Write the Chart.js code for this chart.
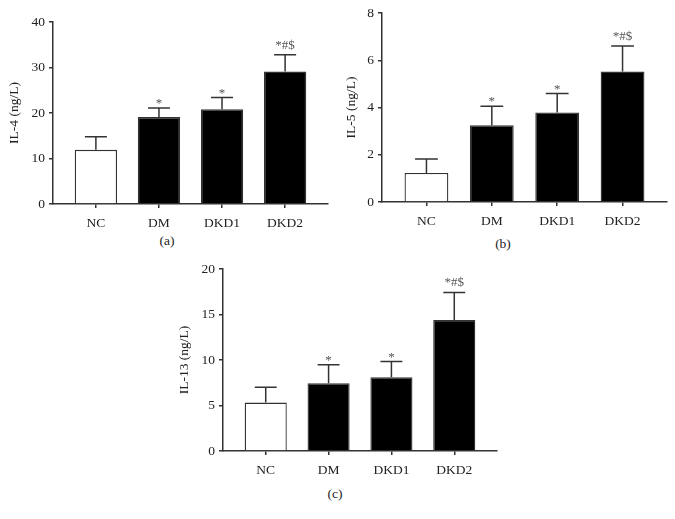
<!DOCTYPE html>
<html lang="en">
<head>
    <meta charset="UTF-8">
    <title>IL-4, IL-5 and IL-13 by group</title>
    <script src="https://cdn.jsdelivr.net/npm/chart.js"></script>
    <style>
        body {
            margin: 0;
            width: 675px;
            height: 519px;
            position: relative;
            overflow: hidden;
            background: #fff;
            font-family: "Liberation Serif", "DejaVu Serif", serif;
            color: #222;
        }

        .panel {
            position: absolute;
        }

        .caption {
            position: absolute;
            font-size: 13.5px;
            line-height: 16px;
            color: #222;
            transform: translateX(-50%);
        }
    </style>
</head>
<body>
    <div class="panel" style="left:0;top:0"><canvas id="chartA" width="340" height="232"></canvas></div>
    <div class="panel" style="left:340px;top:0"><canvas id="chartB" width="335" height="232"></canvas></div>
    <div class="panel" style="left:160px;top:255px"><canvas id="chartC" width="345" height="225"></canvas></div>

    <div class="caption" style="left:167px;top:233px">(a)</div>
    <div class="caption" style="left:503px;top:236px">(b)</div>
    <div class="caption" style="left:335px;top:486px">(c)</div>

    <script>
        // Groups and values (ng/L): bar = mean, upper = top of error bar
        const groups = ["NC", "DM", "DKD1", "DKD2"];
        const signif = ["", "*", "*", "*#$"];

        const il4Mean = [11.9, 19.1, 20.8, 29.1];
        const il4Upper = [14.8, 21.1, 23.4, 32.8];
        const il4Ticks = [0, 10, 20, 30, 40];

        const il5Mean = [1.23, 3.25, 3.79, 5.52];
        const il5Upper = [1.82, 4.05, 4.59, 6.6];
        const il5Ticks = [0, 2, 4, 6, 8];

        const il13Mean = [5.32, 7.45, 8.11, 14.39];
        const il13Upper = [7.01, 9.47, 9.83, 17.42];
        const il13Ticks = [0, 5, 10, 15, 20];

        const ink = "#222";
        const axisColor = "#333";
        const serif = "'Liberation Serif', 'DejaVu Serif', serif";

        // Upper error whisker with cap, plus significance marks above it
        const errorBars = {
            id: "errorBars",
            afterDatasetsDraw(chart, args, opts) {
                const ctx = chart.ctx;
                const yScale = chart.scales.y;
                const meta = chart.getDatasetMeta(0);
                ctx.save();
                ctx.strokeStyle = axisColor;
                ctx.lineWidth = 1.5;
                meta.data.forEach((bar, i) => {
                    const top = yScale.getPixelForValue(opts.upper[i]);
                    const half = bar.width * 0.26;
                    ctx.beginPath();
                    ctx.moveTo(bar.x, bar.y);
                    ctx.lineTo(bar.x, top);
                    ctx.moveTo(bar.x - half, top);
                    ctx.lineTo(bar.x + half, top);
                    ctx.stroke();

                    const mark = opts.marks[i];
                    if (mark) {
                        ctx.fillStyle = "#555";
                        ctx.font = "13px " + serif;
                        ctx.textAlign = "center";
                        ctx.textBaseline = "alphabetic";
                        ctx.fillText(mark, bar.x, top - (mark.length > 1 ? 6 : 1));
                    }
                });
                ctx.restore();
            }
        };

        function makePanel(id, yTitle, means, upper, yTicks, box) {
            const ctx = document.getElementById(id).getContext("2d");
            return new Chart(ctx, {
                type: "bar",
                data: {
                    datasets: [{
                        data: means.map((v, i) => ({ x: i, y: v })),
                        backgroundColor: c => (c.dataIndex === 0 ? "#ffffff" : "#000000"),
                        borderColor: axisColor,
                        borderWidth: 1.3,
                        barPercentage: 0.67,
                        categoryPercentage: 1,
                    }],
                },
                options: {
                    responsive: false,
                    animation: false,
                    devicePixelRatio: 1,
                    layout: {
                        padding: { top: box.top, right: box.right, left: 0, bottom: 0 },
                    },
                    plugins: {
                        legend: { display: false },
                        tooltip: { enabled: false },
                        errorBars: { upper: upper, marks: signif },
                    },
                    scales: {
                        x: {
                            type: "linear",
                            offset: false,
                            min: -0.68,
                            max: groups.length - 0.32,
                            afterBuildTicks: s => {
                                s.ticks = groups.map((g, i) => ({ value: i }));
                            },
                            afterFit: s => {
                                s.height = box.xHeight;
                            },
                            ticks: {
                                callback: v => groups[v],
                                color: ink,
                                padding: 7,
                                maxRotation: 0,
                                autoSkip: false,
                                font: { family: serif, size: 13.5 },
                            },
                            grid: {
                                offset: false,
                                drawOnChartArea: false,
                                color: axisColor,
                                tickLength: 4,
                                lineWidth: 1.5,
                            },
                            border: { display: true, color: axisColor, width: 1.5 },
                        },
                        y: {
                            min: yTicks[0],
                            max: yTicks[yTicks.length - 1],
                            afterBuildTicks: s => {
                                s.ticks = yTicks.map(v => ({ value: v }));
                            },
                            afterFit: s => {
                                s.width = box.yWidth;
                            },
                            ticks: {
                                color: ink,
                                padding: 4,
                                font: { family: serif, size: 13.5 },
                            },
                            grid: {
                                drawOnChartArea: false,
                                color: axisColor,
                                tickLength: 4,
                                lineWidth: 1.5,
                            },
                            border: { display: true, color: axisColor, width: 1.5 },
                            title: {
                                display: true,
                                text: yTitle,
                                color: ink,
                                padding: { top: box.titlePad, bottom: 0 },
                                font: { family: serif, size: 13.5 },
                            },
                        },
                    },
                },
                plugins: [errorBars],
            });
        }

        makePanel("chartA", "IL-4 (ng/L)", il4Mean, il4Upper, il4Ticks,
            { top: 22, right: 12, xHeight: 28, yWidth: 53, titlePad: 6 });
        makePanel("chartB", "IL-5 (ng/L)", il5Mean, il5Upper, il5Ticks,
            { top: 13, right: 8, xHeight: 30, yWidth: 42, titlePad: 3 });
        makePanel("chartC", "IL-13 (ng/L)", il13Mean, il13Upper, il13Ticks,
            { top: 14, right: 8, xHeight: 29, yWidth: 63, titlePad: 16 });
    </script>
</body>
</html>
